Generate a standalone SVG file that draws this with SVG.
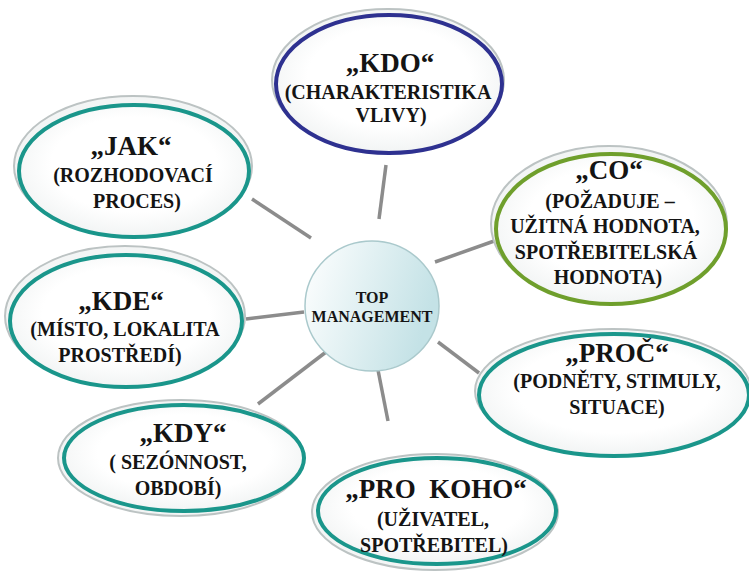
<svg xmlns="http://www.w3.org/2000/svg" width="749" height="576" viewBox="0 0 749 576">
<defs>
<linearGradient id="cg" x1="0" y1="0" x2="1" y2="0.3">
<stop offset="0" stop-color="#ffffff"/>
<stop offset="1" stop-color="#c4e2e6"/>
</linearGradient>
<radialGradient id="eg" cx="0.5" cy="0.45" r="0.6">
<stop offset="0.6" stop-color="#ffffff"/>
<stop offset="1" stop-color="#eef1f1"/>
</radialGradient>
</defs>
<style>
.sh{fill:#f3f5f5;stroke:#bcc3c3;stroke-width:2}
.el{fill:url(#eg);stroke-width:4}
.teal{stroke:#1a968b}
.navy{stroke:#2e3190}
.green{stroke:#6f9f2c}
.conn line{stroke:#8c8c8c;stroke-width:3.5}
</style>
<rect x="0" y="0" width="749" height="576" fill="#ffffff"/>
<g id="connectors" class="conn">
<line x1="386" y1="165" x2="379" y2="219"/>
<line x1="252" y1="199" x2="311" y2="238"/>
<line x1="435" y1="262" x2="497" y2="240"/>
<line x1="246" y1="319" x2="304" y2="312"/>
<line x1="258" y1="404" x2="326" y2="352"/>
<line x1="378" y1="370" x2="388" y2="421"/>
<line x1="438" y1="342" x2="479" y2="373"/>
</g>
<g id="center">
<ellipse cx="372" cy="306" rx="67" ry="65" fill="url(#cg)" stroke="#aac9cc" stroke-width="1.5"/>
<text x="372" y="303" font-family="Liberation Serif" font-size="16" font-weight="bold" text-anchor="middle" fill="#141414">TOP</text>
<text x="372" y="322" font-family="Liberation Serif" font-size="16" font-weight="bold" text-anchor="middle" fill="#141414">MANAGEMENT</text>
</g>
<g id="kdo">
<ellipse class="sh" cx="388" cy="80" rx="116" ry="71"/>
<ellipse class="el navy" cx="389" cy="84" rx="113" ry="69"/>
<text x="390" y="72" font-family="Liberation Serif" font-size="27" font-weight="bold" text-anchor="middle" fill="#141414">„KDO“</text>
<text x="388" y="99" font-family="Liberation Serif" font-size="20" font-weight="bold" text-anchor="middle" fill="#141414">(CHARAKTERISTIKA</text>
<text x="391" y="122" font-family="Liberation Serif" font-size="20" font-weight="bold" text-anchor="middle" fill="#141414">VLIVY)</text>
</g>
<g id="co">
<ellipse class="sh" cx="609" cy="224" rx="118" ry="78"/>
<ellipse class="el green" cx="611" cy="229" rx="115" ry="75"/>
<text x="609" y="179" font-family="Liberation Serif" font-size="27" font-weight="bold" text-anchor="middle" fill="#141414">„CO“</text>
<text x="610" y="208" font-family="Liberation Serif" font-size="20" font-weight="bold" text-anchor="middle" fill="#141414">(POŽADUJE –</text>
<text x="605" y="233" font-family="Liberation Serif" font-size="20" font-weight="bold" text-anchor="middle" fill="#141414">UŽITNÁ HODNOTA,</text>
<text x="606" y="259" font-family="Liberation Serif" font-size="20" font-weight="bold" text-anchor="middle" fill="#141414">SPOTŘEBITELSKÁ</text>
<text x="608" y="284" font-family="Liberation Serif" font-size="20" font-weight="bold" text-anchor="middle" fill="#141414">HODNOTA)</text>
</g>
<g id="jak">
<ellipse class="sh" cx="133" cy="166" rx="119" ry="70"/>
<ellipse class="el teal" cx="134" cy="171" rx="115" ry="66"/>
<text x="131" y="155" font-family="Liberation Serif" font-size="27" font-weight="bold" text-anchor="middle" fill="#141414">„JAK“</text>
<text x="133" y="182" font-family="Liberation Serif" font-size="20" font-weight="bold" text-anchor="middle" fill="#141414">(ROZHODOVACÍ</text>
<text x="137" y="208" font-family="Liberation Serif" font-size="20" font-weight="bold" text-anchor="middle" fill="#141414">PROCES)</text>
</g>
<g id="kde">
<ellipse class="sh" cx="125" cy="316" rx="120" ry="70"/>
<ellipse class="el teal" cx="126" cy="321" rx="116" ry="66"/>
<text x="121" y="310" font-family="Liberation Serif" font-size="27" font-weight="bold" text-anchor="middle" fill="#141414">„KDE“</text>
<text x="125" y="336" font-family="Liberation Serif" font-size="20" font-weight="bold" text-anchor="middle" fill="#141414">(MÍSTO, LOKALITA</text>
<text x="120" y="362" font-family="Liberation Serif" font-size="20" font-weight="bold" text-anchor="middle" fill="#141414">PROSTŘEDÍ)</text>
</g>
<g id="kdy">
<ellipse class="sh" cx="181" cy="458" rx="123" ry="58"/>
<ellipse class="el teal" cx="184" cy="458" rx="120" ry="53"/>
<text x="183" y="442" font-family="Liberation Serif" font-size="27" font-weight="bold" text-anchor="middle" fill="#141414">„KDY“</text>
<text x="178" y="469" font-family="Liberation Serif" font-size="20" font-weight="bold" text-anchor="middle" fill="#141414">( SEZÓNNOST,</text>
<text x="178" y="495" font-family="Liberation Serif" font-size="20" font-weight="bold" text-anchor="middle" fill="#141414">OBDOBÍ)</text>
</g>
<g id="prokoho">
<ellipse class="sh" cx="435" cy="512" rx="123" ry="58"/>
<ellipse class="el teal" cx="437" cy="511" rx="119" ry="53"/>
<text x="436" y="498" font-family="Liberation Serif" font-size="27" font-weight="bold" text-anchor="middle" fill="#141414" xml:space="preserve">„PRO  KOHO“</text>
<text x="433" y="526" font-family="Liberation Serif" font-size="20" font-weight="bold" text-anchor="middle" fill="#141414">(UŽIVATEL,</text>
<text x="434" y="552" font-family="Liberation Serif" font-size="20" font-weight="bold" text-anchor="middle" fill="#141414">SPOTŘEBITEL)</text>
</g>
<g id="proc">
<ellipse class="sh" cx="613" cy="391" rx="138" ry="62"/>
<ellipse class="el teal" cx="614" cy="395" rx="135" ry="61"/>
<text x="617" y="362" font-family="Liberation Serif" font-size="27" font-weight="bold" text-anchor="middle" fill="#141414">„PROČ“</text>
<text x="617" y="388" font-family="Liberation Serif" font-size="20" font-weight="bold" text-anchor="middle" fill="#141414">(PODNĚTY, STIMULY,</text>
<text x="617" y="414" font-family="Liberation Serif" font-size="20" font-weight="bold" text-anchor="middle" fill="#141414">SITUACE)</text>
</g>
</svg>
